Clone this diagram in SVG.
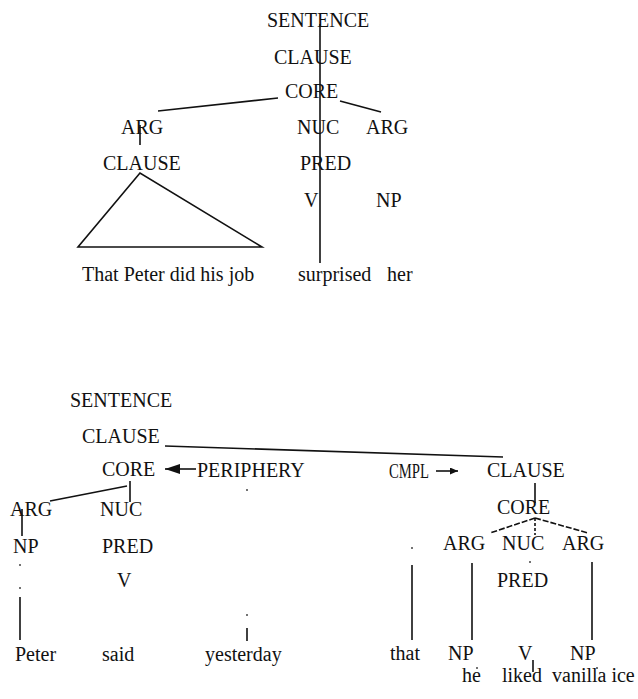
<svg xmlns="http://www.w3.org/2000/svg" width="638" height="699" viewBox="0 0 638 699">
<style>
text { font-family: "Liberation Serif", "Times New Roman", serif; font-size: 20px; fill: #111; }
.ln { stroke: #111; stroke-width: 1.6; fill: none; }
.dot { fill: #444; }
</style>
<defs>
<marker id="bigHead" markerUnits="userSpaceOnUse" markerWidth="15" markerHeight="10" refX="15" refY="5" orient="auto">
<path d="M0,0 L15,5 L0,10 z" fill="#111"/>
</marker>
<marker id="smallHead" markerUnits="userSpaceOnUse" markerWidth="8" markerHeight="7" refX="8" refY="3.5" orient="auto">
<path d="M0,0 L8,3.5 L0,7 z" fill="#111"/>
</marker>
</defs>
<rect width="638" height="699" fill="#fff"/>

<g id="connectors">
<!-- top tree -->
<line class="ln" x1="320" y1="24" x2="320" y2="263"/>
<line class="ln" x1="278" y1="98" x2="158" y2="111"/>
<line class="ln" x1="340" y1="101" x2="381" y2="112"/>
<line class="ln" x1="140" y1="125" x2="140" y2="145"/>
<polygon class="ln" points="140,173 78,247 262,247"/>
<!-- bottom tree -->
<line class="ln" x1="165" y1="446" x2="503" y2="457"/>
<line class="ln" x1="196" y1="469" x2="165" y2="469" marker-end="url(#bigHead)"/>
<line class="ln" x1="50" y1="501" x2="127" y2="486"/>
<line class="ln" x1="130" y1="481" x2="130" y2="502"/>
<line class="ln" x1="22" y1="509" x2="22" y2="536"/>
<circle class="dot" cx="20" cy="565" r="1"/>
<circle class="dot" cx="20" cy="588" r="1"/>
<line class="ln" x1="20" y1="597" x2="20" y2="640"/>
<circle class="dot" cx="247" cy="490" r="1"/>
<circle class="dot" cx="247" cy="615" r="1"/>
<line class="ln" x1="247" y1="628" x2="247" y2="641"/>
<line class="ln" x1="436" y1="471" x2="458" y2="471" marker-end="url(#smallHead)"/>
<line class="ln" x1="535" y1="483" x2="535" y2="503"/>
<line class="ln" x1="535" y1="518" x2="490" y2="533" stroke-dasharray="6,2"/>
<line class="ln" x1="535" y1="518" x2="588" y2="533" stroke-dasharray="6,2"/>
<line class="ln" x1="535" y1="518" x2="535" y2="535" stroke-dasharray="3,2"/>
<circle class="dot" cx="530" cy="562" r="1"/>
<circle class="dot" cx="412" cy="548" r="1"/>
<line class="ln" x1="412" y1="565" x2="412" y2="640"/>
<line class="ln" x1="472" y1="563" x2="472" y2="640"/>
<line class="ln" x1="592" y1="562" x2="592" y2="640"/>
<circle class="dot" cx="477" cy="668" r="1"/>
<line class="ln" x1="533" y1="660" x2="533" y2="672"/>
<circle class="dot" cx="597" cy="668" r="1"/>
</g>

<g id="top-sentence"><text x="267" y="27">SENTENCE</text></g>
<g id="top-clause"><text x="274" y="64">CLAUSE</text></g>
<g id="top-core"><text x="285" y="98">CORE</text></g>
<g id="top-arg1"><text x="121" y="134">ARG</text></g>
<g id="top-nuc"><text x="297" y="134">NUC</text></g>
<g id="top-arg2"><text x="366" y="134">ARG</text></g>
<g id="top-clause2"><text x="103" y="170">CLAUSE</text></g>
<g id="top-pred"><text x="300" y="170">PRED</text></g>
<g id="top-v"><text x="304" y="207">V</text></g>
<g id="top-np"><text x="376" y="207">NP</text></g>
<g id="top-w1"><text x="82" y="281">That Peter did his job</text></g>
<g id="top-w2"><text x="298" y="281">surprised</text></g>
<g id="top-w3"><text x="387" y="281">her</text></g>

<g id="b-sentence"><text x="70" y="407">SENTENCE</text></g>
<g id="b-clause"><text x="82" y="443">CLAUSE</text></g>
<g id="b-core"><text x="102" y="476">CORE</text></g>
<g id="b-periphery"><text x="197" y="477">PERIPHERY</text></g>
<g id="b-arg"><text x="10" y="516">ARG</text></g>
<g id="b-nuc"><text x="100" y="516">NUC</text></g>
<g id="b-np"><text x="13" y="553">NP</text></g>
<g id="b-pred"><text x="102" y="553">PRED</text></g>
<g id="b-v"><text x="117" y="587">V</text></g>
<g id="b-peter"><text x="15" y="661">Peter</text></g>
<g id="b-said"><text x="102" y="661">said</text></g>
<g id="b-yesterday"><text x="205" y="661">yesterday</text></g>
<g id="b-cmpl"><text x="389" y="478" textLength="40" lengthAdjust="spacingAndGlyphs">CMPL</text></g>
<g id="b-clause2"><text x="487" y="477">CLAUSE</text></g>
<g id="b-core2"><text x="497" y="514">CORE</text></g>
<g id="b-arg2"><text x="443" y="550">ARG</text></g>
<g id="b-nuc2"><text x="502" y="550">NUC</text></g>
<g id="b-arg3"><text x="562" y="550">ARG</text></g>
<g id="b-pred2"><text x="497" y="587">PRED</text></g>
<g id="b-that"><text x="390" y="660">that</text></g>
<g id="b-np2"><text x="448" y="660">NP</text></g>
<g id="b-v2"><text x="518" y="660">V</text></g>
<g id="b-np3"><text x="570" y="660">NP</text></g>
<g id="b-he"><text x="462" y="682">he</text></g>
<g id="b-liked"><text x="502" y="682">liked</text></g>
<g id="b-vanilla"><text x="552" y="682">vanilla ice</text></g>
</svg>
